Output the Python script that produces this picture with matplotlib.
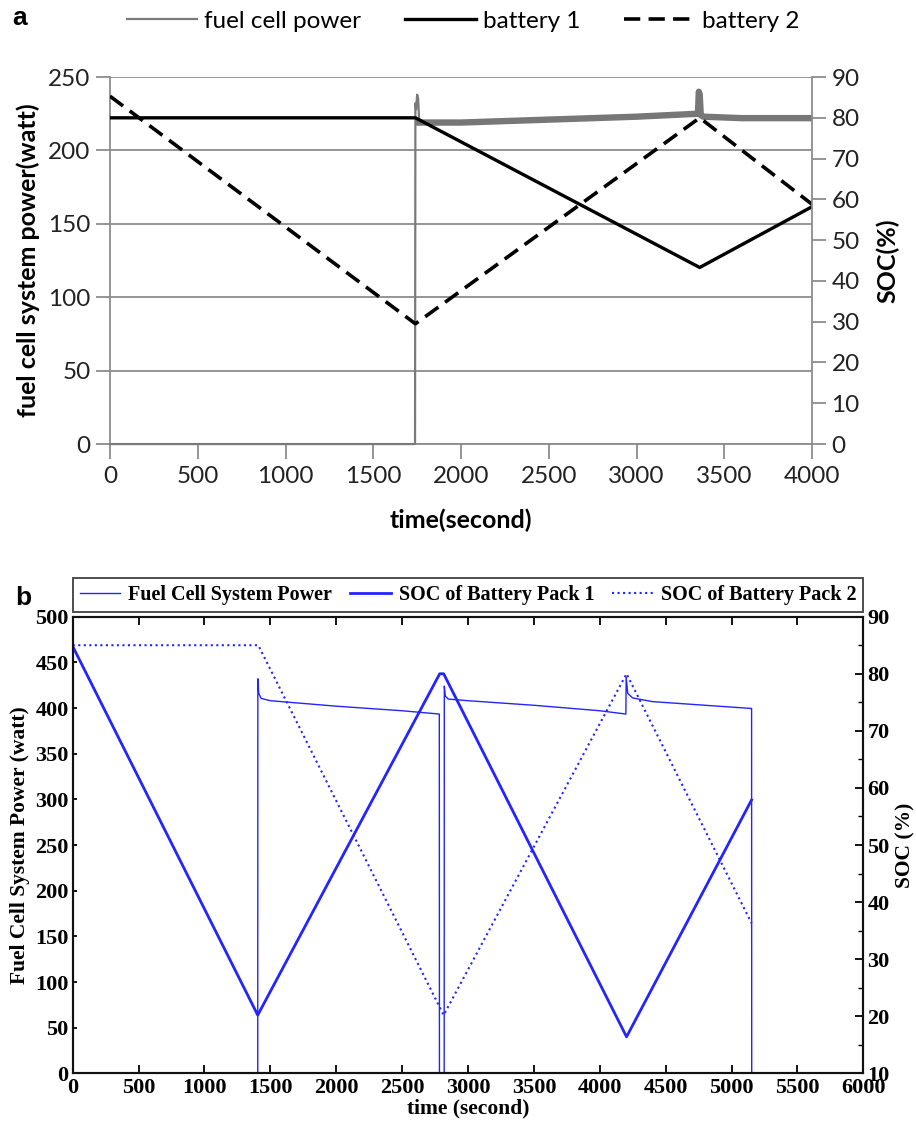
import matplotlib
matplotlib.use("Agg")
import matplotlib.pyplot as plt
from matplotlib.ticker import MultipleLocator

# ---- panel a: values ----
a_time_fc = [0, 1738, 1740, 1744, 1750, 1756, 1762, 2000, 2500, 3000, 3350, 3355, 3360, 3366, 3380, 3600, 4000]
a_power_fc = [0, 0, 232, 228, 238, 235, 219, 219, 221, 223, 225, 240, 238, 224, 223, 222, 222]
a_time_b1 = [0, 1740, 3360, 4000]
a_soc_b1 = [80, 80, 43.3, 58.2]
a_time_b2 = [0, 1740, 3360, 4000]
a_soc_b2 = [85.3, 29.5, 80, 58.8]

# ---- panel b: values ----
b_time_fc = [0, 1404, 1405, 1412, 1430, 1500, 2000, 2500, 2782, 2783, 2819, 2820, 2828, 2850,
             3000, 3500, 4000, 4198, 4200, 4212, 4250, 4400, 4800, 5152, 5153]
b_power_fc = [0, 0, 432, 416, 410.5, 408, 402, 397, 393.4, 0, 0, 424, 413, 409.8,
              408, 403, 397, 393.4, 434, 416, 411, 407, 403, 399.5, 0]
b_time_b1 = [0, 1404, 2785, 2815, 4203, 5152]
b_soc_b1 = [84.8, 20.2, 80, 80, 16.4, 57.9]
b_time_b2 = [0, 1408, 2815, 4203, 5152]
b_soc_b2 = [85, 85, 20.2, 80, 36.3]

fig = plt.figure(figsize=(9.16, 11.38), dpi=100)

# ================= panel a =================
grey = '#8c8c8c'
ax_a = fig.add_axes([0.1201, 0.6098, 0.7664, 0.3225])
ax_a2 = ax_a.twinx()

fc_line, = ax_a.plot(a_time_fc, a_power_fc, color='#7a7a7a', lw=1.6, clip_on=False, zorder=3)
# noisy band of the measured power after start-up
ax_a.plot(a_time_fc[6:], a_power_fc[6:], color='#777777', lw=4.6, zorder=3)
b1_line, = ax_a2.plot(a_time_b1, a_soc_b1, color='black', lw=2.4)
b2_line, = ax_a2.plot(a_time_b2, a_soc_b2, color='black', lw=2.6, linestyle=(0, (4.5, 2.3)))

ax_a.set_xlim(0, 4000)
ax_a.set_ylim(0, 250)
ax_a2.set_ylim(0, 90)
ax_a.set_xticks(range(0, 4001, 500))
ax_a.set_yticks(range(0, 251, 50))
ax_a2.set_yticks(range(0, 91, 10))
ax_a.grid(axis='y', color=grey, lw=1.3)
ax_a.set_axisbelow(True)

for s in ['top', 'right']:
    ax_a.spines[s].set_visible(False)
for s in ['top', 'left', 'bottom']:
    ax_a2.spines[s].set_visible(False)
for sp in [ax_a.spines['left'], ax_a.spines['bottom'], ax_a2.spines['right']]:
    sp.set_color(grey)
    sp.set_linewidth(1.3)

ax_a.tick_params(axis='x', length=11, width=1.3, color=grey, pad=5, labelsize=17.5, labelcolor='#222222')
ax_a.tick_params(axis='y', length=10, width=1.3, color=grey, pad=4, labelsize=17.5, labelcolor='#222222')
ax_a2.tick_params(axis='y', length=10, width=1.3, color=grey, pad=4, labelsize=17.5, labelcolor='#222222')
for lbl in ax_a.get_xticklabels() + ax_a.get_yticklabels() + ax_a2.get_yticklabels():
    lbl.set_family('Lato')

ax_a.set_xlabel('time(second)', family='Lato', weight='bold', fontsize=18, labelpad=15)
ax_a.set_ylabel('fuel cell system power(watt)', family='Lato', weight='bold', fontsize=18, labelpad=6)
ax_a2.set_ylabel('SOC(%)', family='Lato', weight='bold', fontsize=18, labelpad=12)

fig.legend([fc_line, b1_line, b2_line], ['fuel cell power', 'battery 1', 'battery 2'],
           loc='center', bbox_to_anchor=(463 / 916, 1 - 21 / 1138), ncol=3, frameon=False,
           prop={'family': 'Lato', 'size': 17.5}, handlelength=2.9, handletextpad=0.3,
           columnspacing=1.8)
fig.text(12 / 916, 1 - 18 / 1138, 'a', family='Liberation Sans', weight='bold', fontsize=19,
         va='center', ha='left')

# ================= panel b =================
blue = '#2424ff'
serif = 'Liberation Serif'
ax_b = fig.add_axes([0.0794, 0.0568, 0.8631, 0.4013])
ax_b2 = ax_b.twinx()

p_line, = ax_b.plot(b_time_fc, b_power_fc, color=blue, lw=1.0)
s1_line, = ax_b2.plot(b_time_b1, b_soc_b1, color=blue, lw=2.0)
s2_line, = ax_b2.plot(b_time_b2, b_soc_b2, color=blue, lw=1.5, linestyle=':')

ax_b.set_xlim(0, 6000)
ax_b.set_ylim(0, 500)
ax_b2.set_ylim(10, 90)
ax_b.set_xticks(range(0, 6001, 500))
ax_b.set_yticks(range(0, 501, 50))
ax_b2.set_yticks(range(10, 91, 10))
ax_b2.yaxis.set_minor_locator(MultipleLocator(5))

for ax in [ax_b, ax_b2]:
    for sp in ax.spines.values():
        sp.set_linewidth(1.5)
        sp.set_color('#111111')

ax_b.tick_params(axis='x', direction='in', top=True, length=6, width=1.3, pad=3, labelsize=16)
ax_b.tick_params(axis='y', direction='in', length=3, width=1.3, pad=3, labelsize=16)
ax_b2.tick_params(axis='y', which='major', direction='in', length=6, width=1.3, pad=3, labelsize=16)
ax_b2.tick_params(axis='y', which='minor', direction='in', length=3.5, width=1.0)
for lbl in ax_b.get_xticklabels() + ax_b.get_yticklabels() + ax_b2.get_yticklabels():
    lbl.set_family(serif)
    lbl.set_weight('bold')

ax_b.set_xlabel('time (second)', family=serif, weight='bold', fontsize=15.5, labelpad=1)
ax_b.set_ylabel('Fuel Cell System Power (watt)', family=serif, weight='bold', fontsize=15.5, labelpad=4)
ax_b2.set_ylabel('SOC (%)', family=serif, weight='bold', fontsize=15.5, labelpad=4)

leg = ax_b2.legend([p_line, s1_line, s2_line],
                   ['Fuel Cell System Power', 'SOC of Battery Pack 1', 'SOC of Battery Pack 2'],
                   loc='lower left', bbox_to_anchor=(0, 1.011, 1, 0.07), mode='expand', ncol=3,
                   borderaxespad=0, fancybox=False, handlelength=2.0, handletextpad=0.4,
                   borderpad=0.35, prop={'family': serif, 'weight': 'bold', 'size': 14.5})
leg.get_frame().set_edgecolor('#111111')
leg.get_frame().set_linewidth(1.3)
fig.text(15 / 916, 1 - 598 / 1138, 'b', family='Liberation Sans', weight='bold', fontsize=19,
         va='center', ha='left')

fig.savefig('out.png', dpi=100)
